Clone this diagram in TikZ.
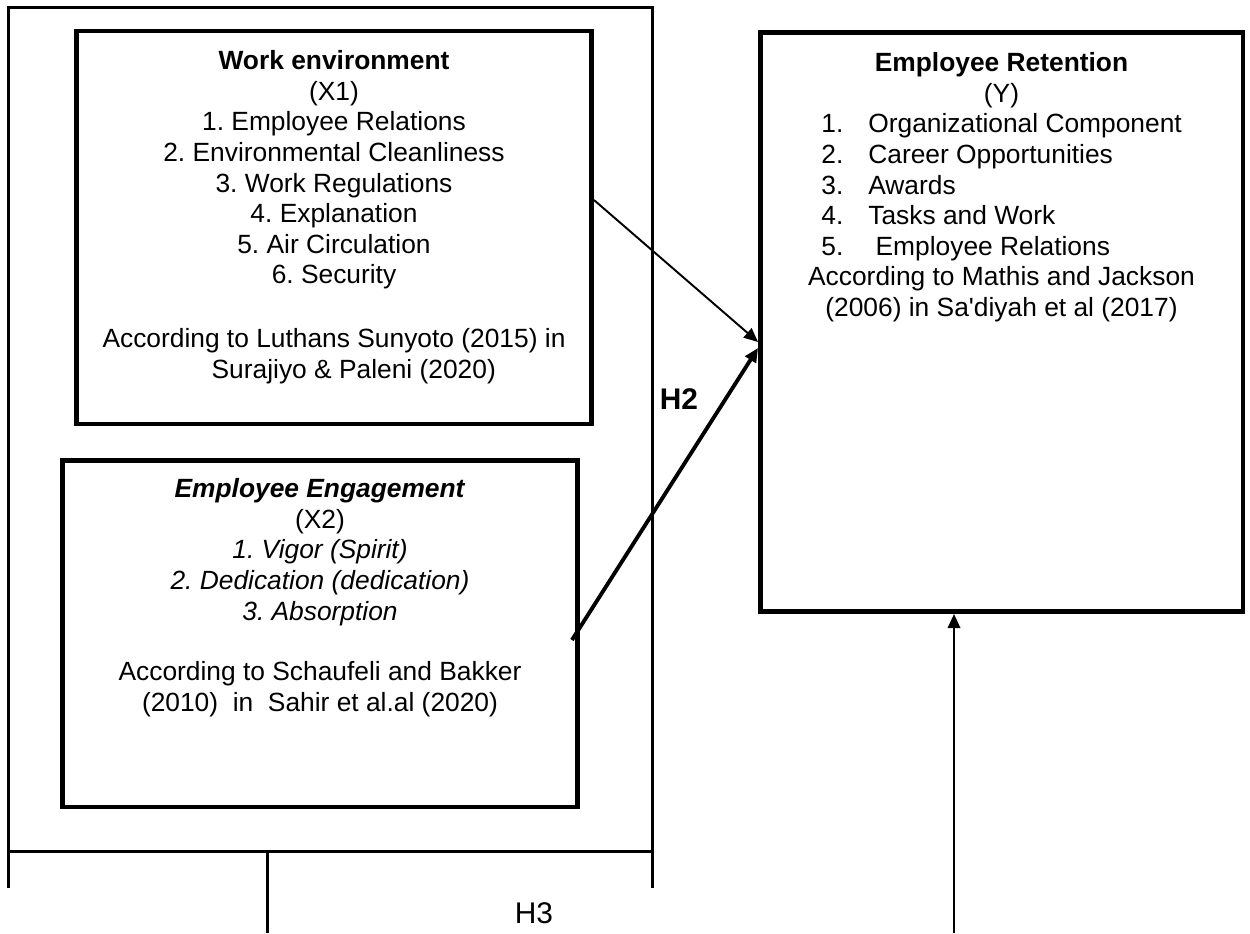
\documentclass[tikz,border=0pt]{standalone}
\usepackage{fontspec}
\setmainfont{Liberation Sans}[Ligatures=TeXOff]
\usetikzlibrary{calc,arrows.meta}
\frenchspacing

\newcommand\retitem[2]{\makebox[205pt][l]{\makebox[26.7pt][l]{#1}#2}}

\begin{document}
\begin{tikzpicture}[x=0.02cm,y=-0.02cm,
    box/.style={draw,line width=2.8pt,inner sep=0pt,outer sep=0pt},
    txt/.style={anchor=north,align=center,inner sep=0pt,font=\fontsize{15}{17.4}\selectfont},
    hyp/.style={inner sep=0pt,font=\fontsize{17}{20}\selectfont},
    arr/.style={-{Triangle[length=8pt,width=7pt]}}]
      \useasboundingbox (0,0) rectangle (1250,933);
      % frame round X1 and X2
      \node[draw,line width=1.7pt,inner sep=0pt,outer sep=0pt,minimum width=12.9cm,minimum height=16.9cm] (frame) at (330.5,429.5) {};
      \coordinate(leg) at ($(frame.south west)+(259,0)$);
      \draw[line width=1.7pt] (frame.south west)--++(0,36) (frame.south east)--++(0,36) (leg)--++(0,81);
      \node[box,minimum width=10.32cm,minimum height=7.86cm] (env) at (334,227.5) {};
      \node[box,minimum width=10.32cm,minimum height=6.94cm] (eng) at (320,633.5) {};
      \node[box,minimum width=9.66cm,minimum height=11.6cm] (ret) at (1001.5,322) {};
      \node[txt] (envtxt) at ($(env.north)+(0,19.3)$) {\textbf{Work environment}\\(X1)\\1. Employee Relations\\2. Environmental Cleanliness\\3. Work Regulations\\4. Explanation\\5. Air Circulation\\6. Security\\[19pt]According to Luthans Sunyoto (2015) in\\\hspace*{1.5em}Surajiyo \& Paleni (2020)};
      \node[txt] (engtxt) at ($(eng.north)+(0,18.3)$) {\textbf{\textit{Employee Engagement}}\\(X2)\\\textit{1. Vigor (Spirit)}\\\textit{2. Dedication (dedication)}\\\textit{3. Absorption}\\[17pt]According to Schaufeli and Bakker\\(2010)\ \ in\ \ Sahir et al.al (2020)};
      \node[txt] (rettxt) at ($(ret.north)+(0,20.3)$) {\textbf{Employee Retention}\\(Y)\\\retitem{1.}{Organizational Component}\\\retitem{2.}{Career Opportunities}\\\retitem{3.}{Awards}\\\retitem{4.}{Tasks and Work}\\\retitem{5.}{\ Employee Relations}\\According to Mathis and Jackson\\(2006) in Sa'diyah et al (2017)};
      \node[hyp] (h2) at (679,399) {\textbf{H2}};
      \node[hyp] (h3) at (534,913) {H3};
      % paths to Y
      \coordinate(a) at ($(env.east)+(2,-27.5)$);
      \coordinate(b) at ($(eng.east)+(-6,6.5)$);
      \coordinate(c) at (954,933);
      \draw[arr,line width=1.1pt] (a)--($(ret.west)+(-2,20)$);
      \draw[arr,line width=2.2pt] (b)--($(ret.west)+(-2,26)$);
      \draw[arr,line width=1.4pt] (c)--($(ret.south)+(-47.5,2)$);
\end{tikzpicture}
\end{document}
